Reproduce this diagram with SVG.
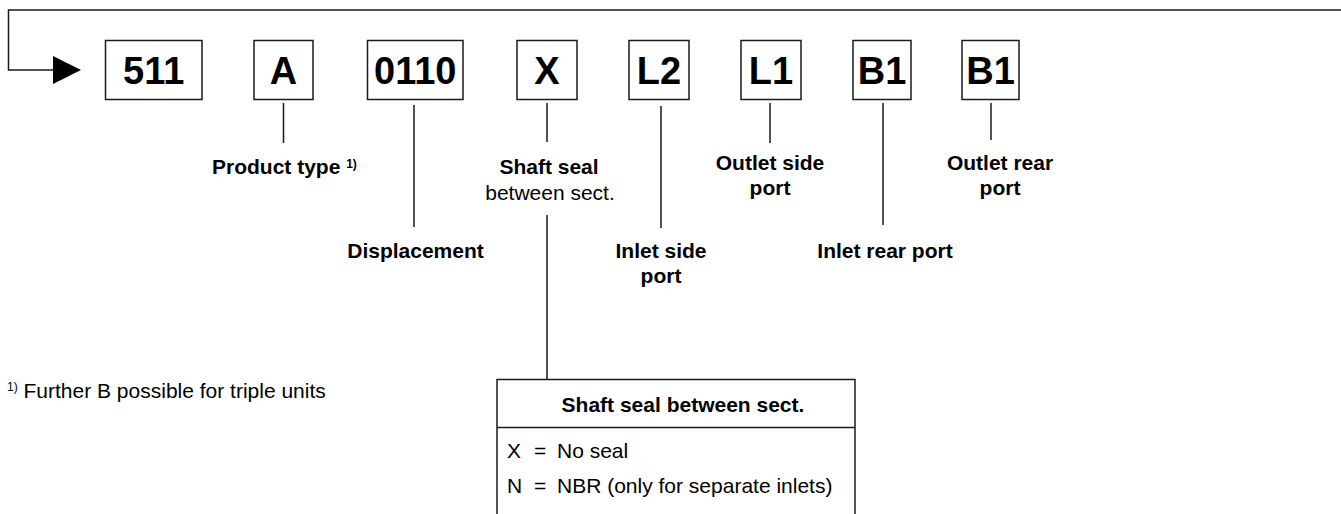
<svg xmlns="http://www.w3.org/2000/svg" width="1341" height="514" viewBox="0 0 1341 514">
<style>
.box{fill:#fff;stroke:#1a1a1a;stroke-width:1.5}
.code{font-family:"Liberation Sans",Arial,sans-serif;font-weight:bold;font-size:38px;fill:#000;text-anchor:middle}
.lbl{font-family:"Liberation Sans",Arial,sans-serif;font-weight:bold;font-size:21px;fill:#000;text-anchor:middle}
.reg{font-family:"Liberation Sans",Arial,sans-serif;font-size:21px;fill:#000}
.sup{font-size:12px}
.ln{stroke:#1a1a1a;stroke-width:1.5;fill:none}
</style>
<rect width="1341" height="514" fill="#fff"/>
<g id="connectors">
<path class="ln" d="M1341 10 H8.5 V70 H56"/>
<polygon points="53,56 81,70 53,84" fill="#000"/>
<line class="ln" x1="283.5" y1="103" x2="283.5" y2="143"/>
<line class="ln" x1="414" y1="105" x2="414" y2="227"/>
<line class="ln" x1="547" y1="103" x2="547" y2="142"/>
<line class="ln" x1="547" y1="215" x2="547" y2="379"/>
<line class="ln" x1="661" y1="106" x2="661" y2="228"/>
<line class="ln" x1="770" y1="103" x2="770" y2="143"/>
<line class="ln" x1="883" y1="103" x2="883" y2="225"/>
<line class="ln" x1="991" y1="103" x2="991" y2="140"/>
</g>
<g id="n511"><rect class="box" x="105.5" y="40.5" width="96.5" height="59"/><text class="code" x="153.75" y="84">511</text></g>
<g id="nA"><rect class="box" x="254" y="40.5" width="59" height="59"/><text class="code" x="283.5" y="84">A</text></g>
<g id="n0110"><rect class="box" x="367.5" y="40.5" width="95.5" height="59"/><text class="code" x="415.25" y="84">0110</text></g>
<g id="nX"><rect class="box" x="517" y="40.5" width="60" height="59"/><text class="code" x="547" y="84">X</text></g>
<g id="nL2"><rect class="box" x="629" y="40.5" width="60" height="59"/><text class="code" x="659" y="84">L2</text></g>
<g id="nL1"><rect class="box" x="741" y="40.5" width="60" height="59"/><text class="code" x="771" y="84">L1</text></g>
<g id="nB1a"><rect class="box" x="853" y="40.5" width="58" height="59"/><text class="code" x="882" y="84">B1</text></g>
<g id="nB1b"><rect class="box" x="962" y="40.5" width="57" height="59"/><text class="code" x="990.5" y="84">B1</text></g>
<g id="labels">
<text class="lbl" x="212" y="174" text-anchor="start" style="text-anchor:start">Product type <tspan class="sup" dy="-6">1)</tspan></text>
<text class="lbl" x="415.5" y="258">Displacement</text>
<text class="lbl" x="549" y="174">Shaft seal</text>
<text class="reg" x="550" y="200" text-anchor="middle">between sect.</text>
<text class="lbl" x="661" y="258">Inlet side</text>
<text class="lbl" x="661" y="283">port</text>
<text class="lbl" x="770" y="170">Outlet side</text>
<text class="lbl" x="770" y="195">port</text>
<text class="lbl" x="885" y="258">Inlet rear port</text>
<text class="lbl" x="1000" y="170">Outlet rear</text>
<text class="lbl" x="1000" y="195">port</text>
</g>
<g id="footnote">
<text class="reg" x="7" y="398"><tspan class="sup" dy="-7">1)</tspan><tspan dy="7"> Further B possible for triple units</tspan></text>
</g>
<g id="table">
<rect class="box" x="497" y="379.5" width="358" height="145"/>
<line class="ln" x1="497" y1="427.5" x2="855" y2="427.5"/>
<text class="lbl" x="683" y="412">Shaft seal between sect.</text>
<text class="reg" x="507" y="458">X</text>
<text class="reg" x="534" y="458">=</text>
<text class="reg" x="557" y="458">No seal</text>
<text class="reg" x="507" y="493">N</text>
<text class="reg" x="534" y="493">=</text>
<text class="reg" x="557" y="493">NBR (only for separate inlets)</text>
</g>
</svg>
